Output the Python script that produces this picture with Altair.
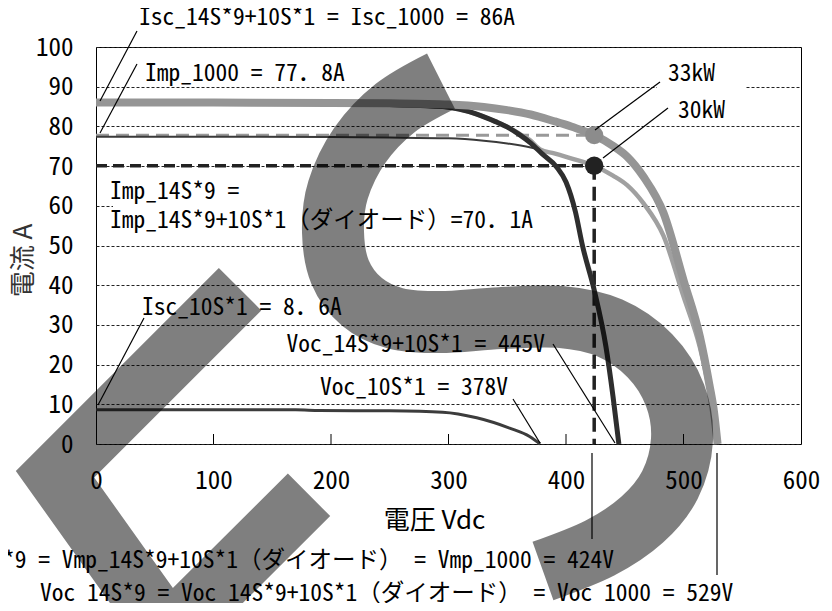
import altair as alt
import pandas as pd

FONT = "Noto Sans Mono CJK JP, Noto Sans CJK JP, sans-serif"
TICKFONT = "Noto Sans Mono CJK JP, Noto Sans CJK JP, sans-serif"
JP = "Noto Sans CJK JP, sans-serif"

# ---------------- data ----------------
# 14S x 10 strings (1000)
v_1000 = [0, 100, 200, 250, 300, 330, 350, 370, 390, 405, 424, 440, 452, 466, 483, 500, 514, 522, 526, 529]
i_1000 = [86.0, 86.0, 85.9, 85.8, 85.5, 84.9, 84.1, 83.0, 81.3, 79.9, 77.8, 75.1, 72.4, 67.3, 58.2, 41.3, 27.0, 15.0, 8.0, 0.0]
# 14S x 9 strings
v_14s9 = [0, 100, 200, 250, 300, 330, 350, 370, 390, 405, 424, 440, 452, 466, 483, 500, 514, 522, 526, 529]
i_14s9 = [77.4, 77.4, 77.3, 77.2, 77.0, 76.4, 75.7, 74.7, 73.2, 71.9, 70.1, 67.6, 65.2, 60.6, 52.4, 37.2, 24.3, 13.5, 7.2, 0.0]
# 14S*9 + 10S*1 with diode
v_diode = [0, 100, 200, 250, 295, 324, 340, 352, 361, 369, 378, 390, 405, 424, 440, 452, 466, 483, 500, 514, 522, 526, 529]
i_diode = [86.0, 86.0, 85.8, 85.5, 85.0, 83.1, 81.2, 79.6, 78.0, 76.6, 74.2, 73.2, 71.9, 70.1, 67.6, 65.2, 60.6, 52.4, 37.2, 24.3, 13.5, 7.2, 0.0]
# 14S*9 + 10S*1 without diode
v_nodiode = [0, 100, 200, 250, 295, 324, 340, 352, 361, 370, 380, 392, 400, 408, 414, 424, 434, 440, 445]
i_nodiode = [86.0, 86.0, 85.8, 85.5, 85.0, 83.1, 81.2, 79.5, 77.8, 75.8, 73.0, 69.8, 66.0, 58.5, 50.0, 38.8, 24.5, 12.0, 0.0]
# 10S x 1 string
v_10s = [0, 100, 170, 190, 250, 295, 324, 352, 369, 378]
i_10s = [8.6, 8.6, 8.6, 8.45, 8.35, 8.0, 6.6, 4.0, 1.9, 0.0]

# maximum power points (33kW, 30kW)
mpp_v = [424, 424]
mpp_i = [77.8, 70.1]

x_tick_values = [0, 100, 200, 300, 400, 500, 600]
y_tick_values = [0, 10, 20, 30, 40, 50, 60, 70, 80, 90, 100]
inner_ticks = [100, 200, 300, 400, 500]

# watermark strokes, in axis units
wm_s_v = [293.6, 254.5, 224.7, 206.0, 201.7, 207.7, 226.4, 254.5, 292.8, 343.8, 394.9, 437.4, 471.5, 492.8, 498.7, 488.5, 464.7, 428.9, 380.4]
wm_s_i = [91.4, 84.6, 75.3, 64.0, 53.4, 43.3, 35.8, 31.7, 30.7, 31.7, 32.0, 29.2, 22.2, 12.3, 1.0, -10.3, -19.1, -26.2, -32.0]
wm_c_v = [122.6, -34.9, 62.1, 181.3]
wm_c_i = [39.0, -7.6, -47.9, -12.8]

# ---------------- layout ----------------
OX, OY = 96, 47
W, H = 705, 397

X = alt.X("V:Q",
          scale=alt.Scale(domain=[0, 600], nice=False, zero=False),
          axis=alt.Axis(values=x_tick_values, title="電圧 Vdc", grid=False, ticks=False,
                        domain=False, labelPadding=36, labelBaseline="middle",
                        labelFlush=False, labelOverlap=False, labelFont=TICKFONT,
                        labelFontSize=25, labelColor="black", titleFont=JP,
                        titleFontSize=26, titleFontWeight="normal", titleColor="black",
                        titleX=338, titleY=76, titleAlign="center", titleBaseline="middle"))
Y = alt.Y("I:Q",
          scale=alt.Scale(domain=[0, 100], nice=False, zero=False),
          axis=alt.Axis(values=y_tick_values, title="電流 A", grid=True, gridDash=[3, 2],
                        gridColor="#222222", gridWidth=1, ticks=False, domain=False,
                        labelPadding=23, labelFont=TICKFONT, labelFontSize=25, labelColor="black",
                        labelOverlap=False, titleFont=JP, titleFontSize=26,
                        titleFontWeight="normal", titleColor="#333333", titleAngle=270,
                        titleX=-73, titleY=213, titleAlign="center", titleBaseline="middle"))

EMPTY = alt.Data(values=[{}])


def curve(v, i, color, width, interp="monotone"):
    df = pd.DataFrame({"V": v, "I": i})
    return alt.Chart(df).mark_line(color=color, strokeWidth=width, interpolate=interp,
                                   strokeCap="butt").encode(x=X, y=Y)


def label(txt, px, py, align="left", size=23.5):
    return alt.Chart(EMPTY).mark_text(text=txt, align=align, baseline="middle", font=FONT,
                                      fontSize=size, color="black").encode(
        x=alt.value(px - OX), y=alt.value(py - OY))


def leader(x1, y1, x2, y2):
    return alt.Chart(EMPTY).mark_rule(color="black", strokeWidth=1.2).encode(
        x=alt.value(x1 - OX), y=alt.value(y1 - OY), x2=alt.value(x2 - OX), y2=alt.value(y2 - OY))


def blank(x1, y1, x2, y2):
    return alt.Chart(EMPTY).mark_rect(color="white").encode(
        x=alt.value(x1 - OX), y=alt.value(y1 - OY), x2=alt.value(x2 - OX), y2=alt.value(y2 - OY))


layers = []

# white boxes behind some labels (hide gridlines)
layers.append(blank(113, 180, 541, 232))
layers.append(blank(657, 66, 745, 100))

# inner x ticks
layers.append(alt.Chart(pd.DataFrame({"V": inner_ticks})).mark_rule(color="black", strokeWidth=1)
              .encode(x=X, y=alt.value(H), y2=alt.value(H - 10)))

# reference dashed lines
ref_h = pd.DataFrame({"V": [0, 0], "V2": mpp_v, "I": mpp_i})
layers.append(alt.Chart(ref_h.iloc[[0]]).mark_rule(color="#999999", strokeWidth=3, strokeDash=[13, 7])
              .encode(x=X, x2="V2", y=Y))
layers.append(alt.Chart(ref_h.iloc[[1]]).mark_rule(color="#222222", strokeWidth=3.5, strokeDash=[11, 6])
              .encode(x=X, x2="V2", y=Y))
ref_v = pd.DataFrame({"V": [mpp_v[1]], "I": [mpp_i[1]], "I2": [0]})
layers.append(alt.Chart(ref_v).mark_rule(color="#222222", strokeWidth=3.5, strokeDash=[14, 7])
              .encode(x=X, y=Y, y2="I2"))

# curves
layers.append(curve(v_10s, i_10s, "#3c3c3c", 3))
layers.append(curve(v_14s9, i_14s9, "#3a3a3a", 2))
layers.append(curve(v_diode, i_diode, "#a0a0a0", 4.5))
layers.append(curve(v_nodiode, i_nodiode, "#2e2e2e", 5))
layers.append(curve(v_1000, i_1000, "#959595", 8))

# MPP points
pts = pd.DataFrame({"V": mpp_v, "I": mpp_i})
layers.append(alt.Chart(pts.iloc[[0]]).mark_circle(size=330, color="#8c8c8c", opacity=1).encode(x=X, y=Y))
layers.append(alt.Chart(pts.iloc[[1]]).mark_circle(size=340, color="#222222", opacity=1).encode(x=X, y=Y))

# annotations
layers += [
    label("Isc_14S*9+10S*1 = Isc_1000 = 86A", 139, 18),
    leader(137, 31, 100, 101),
    label("Imp_1000 = 77．8A", 145, 74),
    leader(137, 64, 100, 133),
    label("Imp_14S*9 =", 110, 192),
    label("Imp_14S*9+10S*1（ダイオード）=70．1A", 110, 221),
    label("Isc_10S*1 = 8．6A", 142, 308),
    leader(144, 318, 98, 405),
    label("Voc_14S*9+10S*1 = 445V", 545, 345, align="right"),
    leader(553, 344, 615, 443),
    label("Voc_10S*1 = 378V", 508, 388, align="right"),
    leader(513, 399, 540, 443),
    label("33kW", 668, 74),
    leader(660, 82, 595, 130),
    label("30kW", 678, 111),
    leader(668, 108, 603, 158),
    label("Vmp_14S*9 = Vmp_14S*9+10S*1（ダイオード） = Vmp_1000 = 424V", 614, 561, align="right"),
    leader(592, 453, 592, 539),
    label("Voc_14S*9 = Voc_14S*9+10S*1（ダイオード） = Voc_1000 = 529V", 40, 594),
    leader(717, 453, 717, 575),
]

# watermark
wm_s = pd.DataFrame({"V": wm_s_v, "I": wm_s_i, "k": list(range(len(wm_s_v)))})
wm_c = pd.DataFrame({"V": wm_c_v, "I": wm_c_i, "k": list(range(len(wm_c_v)))})
layers.append(alt.Chart(wm_s).mark_line(color="black", strokeWidth=62, strokeCap="butt", opacity=0.5,
                                        interpolate="cardinal")
              .encode(x=X, y=Y, order="k:Q"))
layers.append(alt.Chart(wm_c).mark_line(color="black", strokeWidth=60, strokeCap="butt", opacity=0.5,
                                        strokeJoin="miter", strokeMiterLimit=10)
              .encode(x=X, y=Y, order="k:Q"))

chart = alt.layer(*layers).properties(
    width=W, height=H,
    autosize=alt.AutoSizeParams(type="none"),
    padding={"left": 88, "top": 39, "right": 23, "bottom": 159},
    background="white",
).configure_view(stroke="black", strokeWidth=1)

chart.save("out.html", embed_options={"renderer": "svg", "actions": False})
